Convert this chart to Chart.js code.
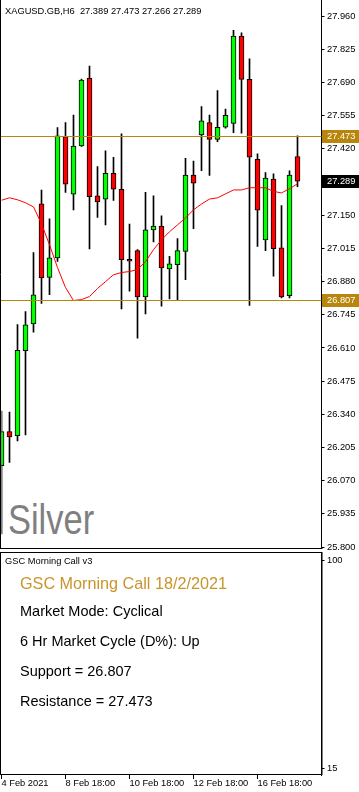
<!DOCTYPE html>
<html>
<head>
<meta charset="utf-8">
<script src="https://cdn.jsdelivr.net/npm/chart.js@4.4.1/dist/chart.umd.min.js"></script>
<style>
  html, body { margin: 0; padding: 0; background: #fff; }
  body { width: 359px; height: 792px; position: relative; overflow: hidden; font-family: "Liberation Sans", Arial, sans-serif; }
  canvas { position: absolute; left: 0; }
  #main { top: 0; }
  #ind { top: 549px; }
  .t { position: absolute; white-space: pre; line-height: 1; color: #000; }
  #silver { transform: scaleX(0.82); transform-origin: 0 0; }
</style>
</head>
<body>
<div class="t" id="silver" style="left:8px; top:499px; font-size:42px; color:#808080;">Silver</div>
<canvas id="main" width="359" height="556"></canvas>
<canvas id="ind" width="359" height="243"></canvas>
<div class="t" id="hdr" style="left:5px; top:7px; font-size:9.3px;"></div>
<div class="t" style="left:5px; top:557px; font-size:9.3px;">GSC Morning Call v3</div>
<div class="t" id="title" style="left:20px; top:574.6px; font-size:16.2px; color:#C8952B;"></div>
<div class="t" id="mode" style="left:20px; top:604.4px; font-size:14.5px;"></div>
<div class="t" id="cycle" style="left:20px; top:634.4px; font-size:14.5px;"></div>
<div class="t" id="sup" style="left:20px; top:664.4px; font-size:14.5px;"></div>
<div class="t" id="res" style="left:20px; top:694.4px; font-size:14.5px;"></div>
<script>
// XAGUSD H6 candles, oldest first
const opens  = [26.131, 26.270, 26.253, 26.599, 26.708, 27.197, 26.897, 26.976, 27.470, 27.236,
                27.432, 27.708, 27.229, 27.216, 27.321, 27.256, 26.968, 27.006, 26.818, 27.090,
                27.106, 26.932, 26.949, 27.003, 27.314, 27.477, 27.527, 27.459, 27.509, 27.524,
                27.879, 27.703, 27.378, 27.050, 27.297, 27.017, 26.823, 27.389];
const highs  = [26.353, 26.349, 26.705, 26.758, 26.998, 27.253, 27.136, 27.507, 27.527, 27.558,
                27.704, 27.757, 27.348, 27.412, 27.386, 27.481, 27.114, 27.010, 27.243, 27.229,
                27.148, 26.983, 27.055, 27.382, 27.371, 27.592, 27.558, 27.657, 27.582, 27.903,
                27.892, 27.787, 27.400, 27.324, 27.319, 27.189, 27.331, 27.473];
const lows   = [25.853, 26.144, 26.232, 26.256, 26.674, 26.791, 26.827, 26.962, 27.243, 27.172,
                27.430, 27.013, 27.141, 27.111, 27.210, 26.769, 26.841, 26.650, 26.749, 27.042,
                26.780, 26.810, 26.807, 26.888, 27.095, 27.331, 27.312, 27.450, 27.504, 27.486,
                27.484, 26.783, 27.023, 27.006, 26.902, 26.814, 26.814, 27.266];
const closes = [26.270, 26.248, 26.600, 26.704, 26.826, 26.895, 26.977, 27.473, 27.277, 27.432,
                27.700, 27.226, 27.204, 27.321, 27.256, 26.969, 26.963, 26.818, 27.091, 27.106,
                26.936, 26.952, 27.006, 27.314, 27.281, 27.534, 27.459, 27.508, 27.557, 27.879,
                27.703, 27.386, 27.171, 27.301, 27.014, 26.818, 27.314, 27.289];
// moving average (red line)
const maLine = [27.211, 27.221, 27.213, 27.201, 27.184, 27.115, 27.030, 26.937, 26.856, 26.803,
                26.807, 26.819, 26.852, 26.880, 26.908, 26.917, 26.921, 26.929, 26.961, 27.010,
                27.050, 27.083, 27.111, 27.139, 27.172, 27.196, 27.216, 27.221, 27.237, 27.253,
                27.253, 27.262, 27.262, 27.262, 27.247, 27.241, 27.258, 27.278];

const supportLevel = 26.807;
const resistanceLevel = 27.473;
const chartShift = 3;           // empty bars on the right
const slotCount = opens.length + chartShift;

const priceTicks = [25.800, 25.935, 26.070, 26.205, 26.340, 26.475, 26.610, 26.745, 26.880,
                    27.015, 27.150, 27.285, 27.420, 27.555, 27.690, 27.825, 27.960];
const priceMin = 25.796, priceMax = 28.026;
const xTickIdx  = [0, 8, 16, 24, 32];
const xTickText = ['4 Feb 2021', '8 Feb 18:00', '10 Feb 18:00', '12 Feb 18:00', '16 Feb 18:00'];
const indTicks = [100, 15];
const indMin = 12.14, indMax = 103.27;

const bullColor = '#00ff00', bearColor = '#ff0000';
const gold = '#B8860B';
const smallFont = { family: 'Liberation Sans', size: 9.3 };

const last = opens.length - 1;
document.getElementById('hdr').textContent = 'XAGUSD.GB,H6  ' +
  [opens[last], highs[last], lows[last], closes[last]].map(v => v.toFixed(3)).join(' ');
document.getElementById('title').textContent = 'GSC Morning Call 18/2/2021';
document.getElementById('mode').textContent = 'Market Mode: Cyclical';
document.getElementById('cycle').textContent = '6 Hr Market Cycle (D%): Up';
document.getElementById('sup').textContent = 'Support = ' + supportLevel.toFixed(3);
document.getElementById('res').textContent = 'Resistance = ' + resistanceLevel.toFixed(3);

const levels = {
  id: 'levels',
  afterDatasetsDraw(chart) {
    const { ctx, chartArea, scales: { y } } = chart;
    ctx.save();
    ctx.strokeStyle = gold;
    ctx.lineWidth = 1;
    [resistanceLevel, supportLevel].forEach(v => {
      const py = Math.round(y.getPixelForValue(v)) + 0.5;
      ctx.beginPath();
      ctx.moveTo(0, py);
      ctx.lineTo(chartArea.right, py);
      ctx.stroke();
    });
    ctx.restore();
  },
  afterDraw(chart) {
    const { ctx, chartArea, scales: { y } } = chart;
    ctx.save();
    const boxes = [[resistanceLevel, gold], [supportLevel, gold], [closes[last], '#000']];
    boxes.forEach(([v, col]) => {
      const py = Math.round(y.getPixelForValue(v));
      ctx.fillStyle = col;
      ctx.fillRect(chartArea.right + 0.5, py - 6, 37, 13);
      ctx.fillStyle = '#fff';
      ctx.font = '9.3px "Liberation Sans"';
      ctx.textBaseline = 'middle';
      ctx.fillText(v.toFixed(3), 327, py + 0.5);
    });
    // frame
    ctx.strokeStyle = '#000';
    ctx.lineWidth = 1;
    ctx.beginPath();
    ctx.moveTo(0.5, 0);
    ctx.lineTo(0.5, chartArea.bottom + 1);
    ctx.moveTo(0, chartArea.bottom + 0.5);
    ctx.lineTo(chartArea.right + 1, chartArea.bottom + 0.5);
    ctx.stroke();
    ctx.restore();
  }
};

new Chart(document.getElementById('main'), {
  type: 'bar',
  data: {
    datasets: [
      {
        type: 'line', label: 'MA',
        data: maLine.map((v, i) => ({ x: i, y: v })),
        borderColor: '#ff0000', borderWidth: 1, pointRadius: 0, tension: 0, order: 0
      },
      {
        label: 'Body',
        data: opens.map((o, i) => ({ x: i, y: [o, closes[i]] })),
        backgroundColor: opens.map((o, i) => closes[i] >= o ? bullColor : bearColor),
        borderColor: '#000', borderWidth: 1, borderSkipped: false,
        barThickness: 5, minBarLength: 2, grouped: false, order: 1
      },
      {
        label: 'Wick',
        data: lows.map((l, i) => ({ x: i, y: [l, highs[i]] })),
        backgroundColor: '#000', borderWidth: 0,
        barThickness: 1, grouped: false, order: 2
      }
    ]
  },
  options: {
    responsive: false, animation: false, devicePixelRatio: 1,
    layout: { padding: { left: 1.5, top: 0, right: 0, bottom: 8 } },
    plugins: { legend: { display: false }, tooltip: { enabled: false } },
    scales: {
      x: { type: 'linear', min: 0, max: slotCount - 1, offset: false, display: false },
      y: {
        position: 'right', min: priceMin, max: priceMax,
        afterBuildTicks: s => { s.ticks = priceTicks.map(v => ({ value: v })); },
        afterFit: s => { s.width = 37.5; s.paddingTop = 0; s.paddingBottom = 0; },
        ticks: { color: '#000', font: smallFont, padding: 2.5, callback: v => v.toFixed(3) },
        grid: { drawOnChartArea: false, drawTicks: true, tickLength: 3, color: '#000' },
        border: { display: true, color: '#000', width: 1 }
      }
    }
  },
  plugins: [levels]
});

const indFrame = {
  id: 'indFrame',
  afterDraw(chart) {
    const { ctx, chartArea } = chart;
    ctx.save();
    ctx.strokeStyle = '#000';
    ctx.lineWidth = 1;
    ctx.strokeRect(0.5, chartArea.top + 0.5, chartArea.right, chartArea.bottom - chartArea.top - 1);
    ctx.restore();
  }
};

new Chart(document.getElementById('ind'), {
  type: 'line',
  data: { datasets: [{ label: 'GSC Morning Call v3', data: [] }] },
  options: {
    responsive: false, animation: false, devicePixelRatio: 1,
    layout: { padding: { left: 1.5, top: 3, right: 0, bottom: 0 } },
    plugins: { legend: { display: false }, tooltip: { enabled: false } },
    scales: {
      x: {
        type: 'linear', min: 0, max: slotCount - 1, offset: false, position: 'bottom',
        afterBuildTicks: s => { s.ticks = xTickIdx.map(v => ({ value: v })); },
        afterFit: s => { s.height = 17; s.paddingLeft = 0; s.paddingRight = 0; },
        ticks: {
          autoSkip: false, maxRotation: 0, align: 'start', color: '#000', padding: 0,
          font: { family: 'Liberation Sans', size: 9.3, lineHeight: 1 },
          callback: v => xTickText[xTickIdx.indexOf(v)]
        },
        grid: { drawOnChartArea: false, tickLength: 4, color: '#000' },
        border: { display: false }
      },
      y: {
        position: 'right', min: indMin, max: indMax,
        afterBuildTicks: s => { s.ticks = indTicks.map(v => ({ value: v })); },
        afterFit: s => { s.width = 37.5; s.paddingTop = 0; s.paddingBottom = 0; },
        ticks: { color: '#000', font: smallFont, padding: 2.5 },
        grid: { drawOnChartArea: false, tickLength: 3, color: '#000' },
        border: { display: true, color: '#000', width: 1 }
      }
    }
  },
  plugins: [indFrame]
});
</script>
</body>
</html>
